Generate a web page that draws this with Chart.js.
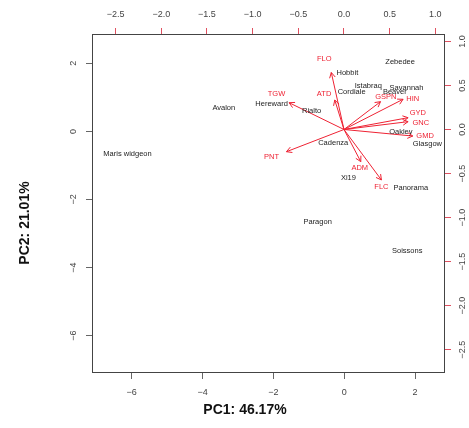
<!DOCTYPE html>
<html>
<head>
<meta charset="utf-8">
<script src="https://cdn.jsdelivr.net/npm/chart.js@4.4.0/dist/chart.umd.min.js"></script>
<style>
    html, body { margin: 0; padding: 0; background: #fff; }
    #wrap { width: 469px; height: 428px; }
</style>
</head>
<body>
<div id="wrap"><canvas id="biplot" width="469" height="428"></canvas></div>
<script>
// genotype scores on PC1 / PC2
const genotypes = ['Zebedee', 'Hobbit', 'Istabraq', 'Savannah', 'Beaver', 'Cordiale', 'Avalon', 'Hereward', 'Rialto',
    'Oakley', 'Glasgow', 'Cadenza', 'Maris widgeon', 'Xi19', 'Panorama', 'Paragon', 'Soissons'];
const pc1Scores = [1.58, 0.09, 0.68, 1.76, 1.43, 0.21, -3.40, -2.05, -0.92, 1.60, 2.35, -0.31, -6.12, 0.12, 1.88, -0.75, 1.78];
const pc2Scores = [2.03, 1.72, 1.34, 1.28, 1.15, 1.15, 0.68, 0.80, 0.60, -0.03, -0.37, -0.35, -0.66, -1.36, -1.67, -2.66, -3.50];

// trait loadings (arrow tips) and where their names sit, on the top/right axes
const traits = ['FLO', 'TGW', 'ATD', 'GSPN', 'HIN', 'GYD', 'GNC', 'GMD', 'PNT', 'ADM', 'FLC'];
const arrowX = [-0.139, -0.601, -0.101, 0.400, 0.647, 0.702, 0.702, 0.753, -0.630, 0.184, 0.410];
const arrowY = [0.647, 0.304, 0.335, 0.316, 0.343, 0.134, 0.089, -0.074, -0.252, -0.365, -0.573];
const traitLabelX = [-0.216, -0.739, -0.218, 0.458, 0.753, 0.808, 0.841, 0.888, -0.794, 0.173, 0.410];
const traitLabelY = [0.798, 0.400, 0.400, 0.372, 0.344, 0.187, 0.074, -0.068, -0.309, -0.431, -0.653];

// tick labels
const pc1Ticks = [-6, -4, -2, 0, 2];
const pc2Ticks = [-6, -4, -2, 0, 2];
const loadXTicks = [-2.5, -2.0, -1.5, -1.0, -0.5, 0.0, 0.5, 1.0];
const loadYTicks = [-2.5, -2.0, -1.5, -1.0, -0.5, 0.0, 0.5, 1.0];

const xTitle = 'PC1: 46.17%';
const yTitle = 'PC2: 21.01%';

const RED = '#ee2233';
const TEXT_FONT = '"Liberation Sans", Arial, sans-serif';

// minus sign like R prints it
function fmt(v, digits) {
    const s = Math.abs(v).toFixed(digits);
    return (v < 0 ? '\u2212' : '') + s;
}

// sets a fixed size for an axis box
function fixSize(size) {
    return function (scale) {
        if (scale.isHorizontal()) scale.height = size;
        else scale.width = size;
    };
}

function fixTicks(values) {
    return function (scale) {
        scale.ticks = values.map(v => ({ value: v }));
    };
}

function axisOpts(position, min, max, values, size, tickColor) {
    return {
        type: 'linear',
        position: position,
        min: min,
        max: max,
        afterBuildTicks: fixTicks(values),
        afterFit: fixSize(size),
        ticks: { display: false },
        grid: { drawOnChartArea: false, drawTicks: true, tickLength: 6, color: tickColor, lineWidth: 1 },
        border: { display: false }
    };
}

// box, tick labels, titles, arrow heads and all text labels
const biplotDecor = {
    id: 'biplotDecor',
    afterDatasetsDraw(chart) {
        const ctx = chart.ctx;
        const area = chart.chartArea;
        const sx = chart.scales.x, sy = chart.scales.y;
        const sx2 = chart.scales.x2, sy2 = chart.scales.y2;
        ctx.save();

        // plot box
        ctx.strokeStyle = '#444';
        ctx.lineWidth = 1;
        ctx.strokeRect(area.left + 0.5, area.top + 0.5, area.right - area.left - 1, area.bottom - area.top - 1);

        // tick labels
        ctx.fillStyle = '#444';
        ctx.font = '9px ' + TEXT_FONT;
        ctx.textAlign = 'center';
        ctx.textBaseline = 'middle';
        pc1Ticks.forEach(v => ctx.fillText(fmt(v, 0), sx.getPixelForValue(v), area.bottom + 20));
        loadXTicks.forEach(v => ctx.fillText(fmt(v, 1), sx2.getPixelForValue(v), area.top - 19));
        pc2Ticks.forEach(v => {
            ctx.save();
            ctx.translate(area.left - 18, sy.getPixelForValue(v));
            ctx.rotate(-Math.PI / 2);
            ctx.fillText(fmt(v, 0), 0, 0);
            ctx.restore();
        });
        loadYTicks.forEach(v => {
            ctx.save();
            ctx.translate(area.right + 18, sy2.getPixelForValue(v));
            ctx.rotate(-Math.PI / 2);
            ctx.fillText(fmt(v, 1), 0, 0);
            ctx.restore();
        });

        // axis titles
        ctx.fillStyle = '#111';
        ctx.font = 'bold 14px ' + TEXT_FONT;
        ctx.fillText(xTitle, area.left + 153, area.bottom + 37);
        ctx.save();
        ctx.translate(25, area.top + 189);
        ctx.rotate(-Math.PI / 2);
        ctx.fillText(yTitle, 0, 0);
        ctx.restore();

        // genotype names
        ctx.font = '7.5px ' + TEXT_FONT;
        ctx.fillStyle = '#222';
        genotypes.forEach((g, i) => {
            ctx.fillText(g, sx.getPixelForValue(pc1Scores[i]), sy.getPixelForValue(pc2Scores[i]));
        });

        // arrow heads
        const ox = sx2.getPixelForValue(0), oy = sy2.getPixelForValue(0);
        ctx.strokeStyle = RED;
        ctx.lineWidth = 1;
        traits.forEach((t, i) => {
            const tx = sx2.getPixelForValue(arrowX[i]);
            const ty = sy2.getPixelForValue(arrowY[i]);
            const ang = Math.atan2(ty - oy, tx - ox);
            ctx.beginPath();
            ctx.moveTo(tx - 6 * Math.cos(ang - 0.5), ty - 6 * Math.sin(ang - 0.5));
            ctx.lineTo(tx, ty);
            ctx.lineTo(tx - 6 * Math.cos(ang + 0.5), ty - 6 * Math.sin(ang + 0.5));
            ctx.stroke();
        });

        // trait names
        ctx.fillStyle = RED;
        ctx.font = '7.5px ' + TEXT_FONT;
        traits.forEach((t, i) => {
            ctx.fillText(t, sx2.getPixelForValue(traitLabelX[i]), sy2.getPixelForValue(traitLabelY[i]));
        });

        ctx.restore();
    }
};

function setupChart() {
    const ctx = document.getElementById('biplot').getContext('2d');

    // one line per trait, from the origin to its tip
    const arrowSets = traits.map((t, i) => ({
        label: t,
        data: [{ x: 0, y: 0 }, { x: arrowX[i], y: arrowY[i] }],
        xAxisID: 'x2',
        yAxisID: 'y2',
        showLine: true,
        borderColor: RED,
        borderWidth: 1,
        pointRadius: 0
    }));

    new Chart(ctx, {
        type: 'scatter',
        data: {
            datasets: [{
                label: 'genotypes',
                data: genotypes.map((g, i) => ({ x: pc1Scores[i], y: pc2Scores[i] })),
                xAxisID: 'x',
                yAxisID: 'y',
                pointRadius: 0
            }].concat(arrowSets)
        },
        options: {
            responsive: false,
            animation: false,
            devicePixelRatio: 1,
            layout: { padding: 0 },
            plugins: { legend: { display: false }, tooltip: { enabled: false } },
            scales: {
                x: axisOpts('bottom', -7.122, 2.847, pc1Ticks, 55, '#666'),
                y: axisOpts('left', -7.096, 2.86, pc2Ticks, 92, '#666'),
                x2: axisOpts('top', -2.759, 1.106, loadXTicks, 34, '#e05060'),
                y2: axisOpts('right', -2.764, 1.084, loadYTicks, 24, '#e05060')
            }
        },
        plugins: [biplotDecor]
    });
}

setupChart();
</script>
</body>
</html>
